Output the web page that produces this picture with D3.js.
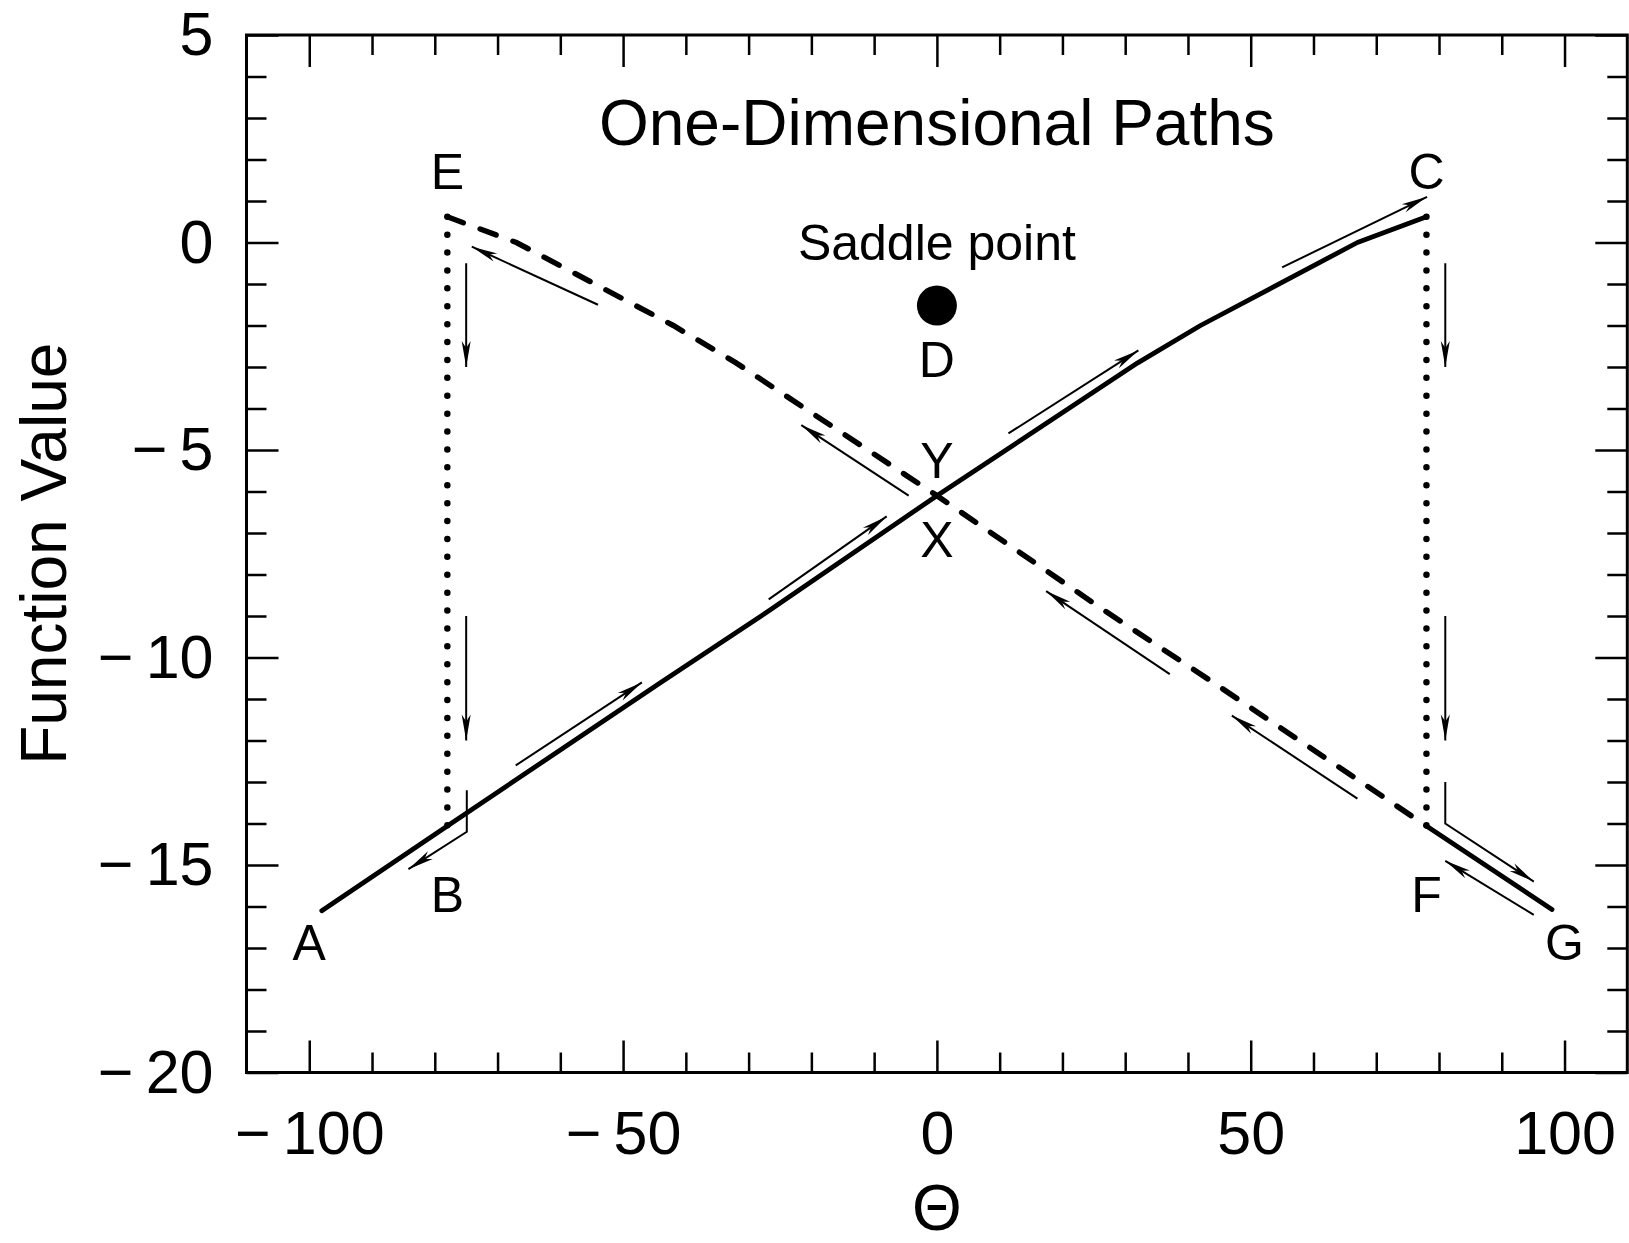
<!DOCTYPE html>
<html>
<head>
<meta charset="utf-8">
<script src="https://cdn.jsdelivr.net/npm/d3@7"></script>
<style>
  body { margin: 0; background: #fff; }
  svg { display: block; }
  text { font-family: "Liberation Sans", Arial, Helvetica, sans-serif; fill: #000; }
</style>
</head>
<body>
<div id="chart"></div>
<script>
// x ticks, y ticks
const xMajor = [-100, -50, 0, 50, 100];
const xMinor = [-90, -80, -70, -60, -40, -30, -20, -10, 10, 20, 30, 40, 60, 70, 80, 90];
const yMajor = [-20, -15, -10, -5, 0, 5];
const yMinor = [-19, -18, -17, -16, -14, -13, -12, -11, -9, -8, -7, -6, -4, -3, -2, -1, 1, 2, 3, 4];

// path A -> X -> C (solid)
const pathAC = [[-98, -16.1], [-78, -14.06], [-44, -10.6], [-27, -8.9], [0, -6.1],
                [32, -2.9], [42, -2.0], [67, 0], [78, 0.62]];
// path E -> Y -> F (dashed)
const pathEF = [[-78, 0.62], [-67, 0], [-42, -2.0], [-32, -2.9], [0, -6.1],
                [27, -8.9], [44, -10.6], [78, -14.06]];
// F -> G (solid)
const pathFG = [[78, -14.06], [98, -16.07]];
// vertical drops (dotted)
const dropEB = [[-78, 0.62], [-78, -14.06]];
const dropCF = [[78, 0.62], [78, -14.06]];

// direction arrows
const arrows = [
    [[-75, -0.5], [-75, -3.0]],
    [[-75, -9.0], [-75, -12.0]],
    [[-74.9, -13.2], [-74.9, -14.2], [-84.2, -15.1]],
    [[-67.1, -12.6], [-47.0, -10.6]],
    [[-26.8, -8.6], [-8.0, -6.6]],
    [[11.4, -4.6], [32.1, -2.6]],
    [[55.0, -0.6], [78.1, 1.1]],
    [[81, -0.5], [81, -3.0]],
    [[81, -9.0], [81, -12.0]],
    [[81, -13.0], [81, -14.0], [95.1, -15.4]],
    [[95.1, -16.2], [81, -14.9]],
    [[67, -13.4], [47, -11.4]],
    [[37.1, -10.4], [17.4, -8.4]],
    [[-4.5, -6.1], [-21.6, -4.4]],
    [[-54, -1.5], [-74.1, -0.1]]
];

const saddle = [0, -1.52];

const pointLabels = [
    { text: 'A', x: -100, y: -17.3 },
    { text: 'B', x: -78, y: -16.13 },
    { text: 'C', x: 78, y: 1.28 },
    { text: 'D', x: 0, y: -3.24 },
    { text: 'E', x: -78, y: 1.28 },
    { text: 'F', x: 78, y: -16.13 },
    { text: 'G', x: 100, y: -17.3 },
    { text: 'X', x: 0, y: -7.57 },
    { text: 'Y', x: 0, y: -5.67 },
    { text: 'Saddle point', x: 0, y: -0.41 }
];

const W = 1629, H = 1243;
const plotLeft = 246.5, plotRight = 1627.3, plotTop = 35, plotBottom = 1072.5;

const svg = d3.select('#chart').append('svg')
    .attr('width', W)
    .attr('height', H);

const x = d3.scaleLinear().domain([-110, 110]).range([plotLeft, plotRight]);
const y = d3.scaleLinear().domain([-20, 5]).range([plotBottom, plotTop]);

const fmt = d => d < 0 ? '\u2212\u2009' + Math.abs(d) : String(d);

// arrowhead
svg.append('defs').append('marker')
    .attr('id', 'head')
    .attr('markerUnits', 'userSpaceOnUse')
    .attr('viewBox', '-28 -6 30 12')
    .attr('refX', 0)
    .attr('refY', 0)
    .attr('markerWidth', 30)
    .attr('markerHeight', 12)
    .attr('orient', 'auto')
    .append('path')
    .attr('d', 'M0,0 L-26,-4.5 L-19,0 L-26,4.5 Z')
    .attr('fill', '#000');

// axes: ticks pointing inward on all four sides
function addAxis(axis, transform, vals, size, labels, pad) {
    const g = svg.append('g')
        .attr('transform', transform)
        .call(axis.tickValues(vals).tickSizeInner(size).tickSizeOuter(0)
            .tickPadding(pad || 0)
            .tickFormat(labels ? fmt : ''));
    g.select('.domain').remove();
    g.selectAll('.tick line').attr('stroke', '#000').attr('stroke-width', 2.5);
    g.selectAll('.tick text').attr('font-size', 61).attr('fill', '#000')
        .attr('font-family', '"Liberation Sans", Arial, Helvetica, sans-serif');
    return g;
}

addAxis(d3.axisBottom(x), `translate(0,${plotBottom})`, xMajor, -32, true, 38);
addAxis(d3.axisBottom(x), `translate(0,${plotBottom})`, xMinor, -20, false);
addAxis(d3.axisTop(x), `translate(0,${plotTop})`, xMajor, -32, false);
addAxis(d3.axisTop(x), `translate(0,${plotTop})`, xMinor, -20, false);
addAxis(d3.axisLeft(y), `translate(${plotLeft},0)`, yMajor, -32, true, 33);
addAxis(d3.axisLeft(y), `translate(${plotLeft},0)`, yMinor, -20, false);
addAxis(d3.axisRight(y), `translate(${plotRight},0)`, yMajor, -32, false);
addAxis(d3.axisRight(y), `translate(${plotRight},0)`, yMinor, -20, false);

svg.append('rect')
    .attr('x', plotLeft)
    .attr('y', plotTop)
    .attr('width', plotRight - plotLeft)
    .attr('height', plotBottom - plotTop)
    .attr('fill', 'none')
    .attr('stroke', '#000')
    .attr('stroke-width', 3);

const line = d3.line().x(d => x(d[0])).y(d => y(d[1]));

const plot = svg.append('g');

plot.append('path').datum(dropEB).attr('d', line)
    .attr('fill', 'none').attr('stroke', '#000').attr('stroke-width', 6.5)
    .attr('stroke-linecap', 'round').attr('stroke-dasharray', '0,17.9');
plot.append('path').datum(dropCF).attr('d', line)
    .attr('fill', 'none').attr('stroke', '#000').attr('stroke-width', 6.5)
    .attr('stroke-linecap', 'round').attr('stroke-dasharray', '0,17.9');

plot.append('path').datum(pathEF).attr('d', line)
    .attr('fill', 'none').attr('stroke', '#000').attr('stroke-width', 5.5)
    .attr('stroke-linecap', 'round').attr('stroke-dasharray', '17,18');

plot.append('path').datum(pathAC).attr('d', line)
    .attr('fill', 'none').attr('stroke', '#000').attr('stroke-width', 4.8)
    .attr('stroke-linejoin', 'round').attr('stroke-linecap', 'round');
plot.append('path').datum(pathFG).attr('d', line)
    .attr('fill', 'none').attr('stroke', '#000').attr('stroke-width', 4.8)
    .attr('stroke-linecap', 'round');

plot.selectAll('.arrow')
    .data(arrows)
    .enter()
    .append('path')
    .attr('class', 'arrow')
    .attr('d', line)
    .attr('fill', 'none')
    .attr('stroke', '#000')
    .attr('stroke-width', 2)
    .attr('marker-end', 'url(#head)');

plot.append('circle')
    .attr('cx', x(saddle[0]))
    .attr('cy', y(saddle[1]))
    .attr('r', 20)
    .attr('fill', '#000');

plot.selectAll('.lbl')
    .data(pointLabels)
    .enter()
    .append('text')
    .attr('class', 'lbl')
    .attr('x', d => x(d.x))
    .attr('y', d => y(d.y))
    .attr('text-anchor', 'middle')
    .attr('font-size', 50)
    .text(d => d.text);

// title
svg.append('text')
    .attr('x', x(0))
    .attr('y', y(2.35))
    .attr('text-anchor', 'middle')
    .attr('font-size', 64)
    .text('One-Dimensional Paths');

// axis titles
svg.append('text')
    .attr('transform', `translate(65.5,${(plotTop + plotBottom) / 2}) rotate(-90)`)
    .attr('text-anchor', 'middle')
    .attr('font-size', 64)
    .text('Function Value');

svg.append('text')
    .attr('x', x(0))
    .attr('y', 1230)
    .attr('text-anchor', 'middle')
    .attr('font-size', 64)
    .text('\u0398');
</script>
</body>
</html>
